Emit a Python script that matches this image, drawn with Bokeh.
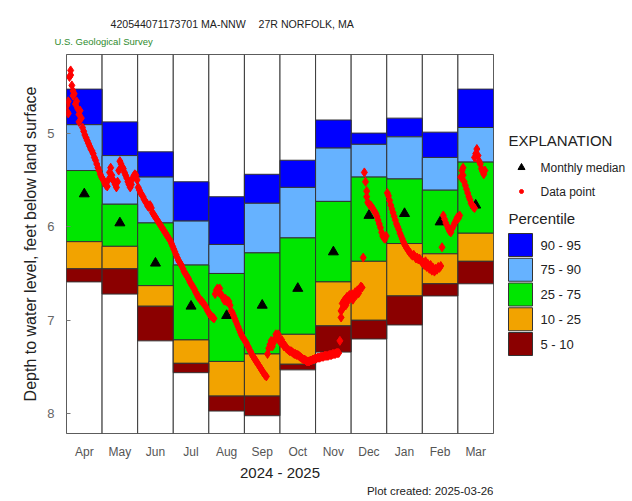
import calendar
from bokeh.plotting import figure
from bokeh.models import Range1d, FixedTicker
from bokeh.layouts import row, column
from bokeh.core.properties import value
from bokeh.embed import file_html
from bokeh.resources import INLINE

FONT = "Liberation Sans"

# ---------------- data ----------------
months = ["Apr", "May", "Jun", "Jul", "Aug", "Sep", "Oct", "Nov", "Dec", "Jan", "Feb", "Mar"]
month_year = [(2024, 4), (2024, 5), (2024, 6), (2024, 7), (2024, 8), (2024, 9),
              (2024, 10), (2024, 11), (2024, 12), (2025, 1), (2025, 2), (2025, 3)]

# percentile boundaries (depth, ft below land surface)
p95 = [4.53, 4.88, 5.20, 5.52, 5.68, 5.44, 5.29, 4.86, 5.00, 4.84, 4.99, 4.53]
p90 = [4.91, 5.24, 5.47, 5.94, 6.19, 5.75, 5.58, 5.16, 5.12, 5.04, 5.26, 4.94]
p75 = [5.40, 5.76, 5.96, 6.41, 6.50, 6.28, 6.12, 5.73, 5.47, 5.49, 5.61, 5.31]
p25 = [6.16, 6.21, 6.63, 7.21, 7.44, 7.36, 7.15, 6.59, 6.37, 6.18, 6.29, 6.07]
p10 = [6.45, 6.45, 6.85, 7.46, 7.81, 7.81, 7.47, 7.06, 7.00, 6.74, 6.61, 6.37]
p05 = [6.59, 6.72, 7.22, 7.56, 7.97, 8.02, 7.53, 7.34, 7.20, 7.05, 6.74, 6.61]
median = [5.65, 5.96, 6.39, 6.85, 6.95, 6.84, 6.66, 6.27, 5.88, 5.86, 5.95, 5.77]

band_labels = ["90 - 95", "75 - 90", "25 - 75", "10 - 25", "5 - 10"]
band_colors = ["#0000FF", "#66B2FF", "#00E600", "#F2A300", "#8B0000"]

# daily data points (day of month, depth)
wl_apr = [(1, 4.70), (1, 4.77), (2, 4.66), (2, 4.79), (3, 4.40), (4, 4.33), (4, 4.38), (5, 4.49),
          (6, 4.55), (6, 4.60), (7, 4.58), (8, 4.69), (9, 4.66), (10, 4.74), (11, 4.88), (11, 4.80),
          (12, 4.76), (13, 4.84), (14, 4.94), (15, 4.98), (16, 5.02), (17, 5.05), (18, 5.08),
          (19, 5.11), (20, 5.14), (21, 5.17), (22, 5.19), (23, 5.22), (24, 5.26), (25, 5.29),
          (26, 5.33), (27, 5.37), (28, 5.40), (29, 5.44), (30, 5.47)]
wl_may = [(1, 5.49), (2, 5.51), (3, 5.54), (4, 5.56), (5, 5.57), (6, 5.50), (7, 5.42), (8, 5.37),
          (9, 5.45), (10, 5.50), (11, 5.52), (12, 5.55), (13, 5.58), (14, 5.52), (15, 5.40),
          (16, 5.30), (17, 5.33), (18, 5.36), (19, 5.38), (20, 5.42), (21, 5.45), (22, 5.48),
          (23, 5.52), (24, 5.55), (25, 5.58), (26, 5.55), (27, 5.49), (28, 5.46), (29, 5.44),
          (30, 5.45), (31, 5.50)]
wl_jun = [(1, 5.58), (2, 5.61), (3, 5.64), (4, 5.66), (5, 5.68), (6, 5.71), (7, 5.73), (8, 5.75),
          (9, 5.78), (10, 5.79), (11, 5.77), (12, 5.80), (13, 5.85), (14, 5.87), (15, 5.89),
          (16, 5.91), (17, 5.93), (18, 5.95), (19, 5.97), (20, 5.99), (21, 6.01), (22, 6.03),
          (23, 6.05), (24, 6.07), (25, 6.09), (26, 6.11), (27, 6.13), (28, 6.15), (29, 6.18),
          (30, 6.21)]
wl_jul = [(1, 6.24), (2, 6.27), (3, 6.30), (4, 6.33), (5, 6.36), (6, 6.38), (7, 6.40), (8, 6.42),
          (9, 6.45), (10, 6.48), (11, 6.50), (12, 6.52), (13, 6.54), (14, 6.56), (15, 6.59),
          (16, 6.61), (17, 6.63), (18, 6.65), (19, 6.67), (20, 6.70), (21, 6.72), (22, 6.75),
          (23, 6.76), (24, 6.78), (25, 6.79), (26, 6.81), (27, 6.82), (28, 6.84), (29, 6.86),
          (30, 6.89), (31, 6.91)]
wl_aug = [(1, 6.93), (2, 6.95), (3, 6.96), (4, 6.97), (5, 6.98), (6, 6.72), (7, 6.68), (8, 6.66),
          (9, 6.70), (10, 6.66), (11, 6.72), (12, 6.74), (13, 6.76), (14, 6.79), (15, 6.77),
          (16, 6.80), (17, 6.79), (18, 6.80), (19, 6.84), (20, 6.90), (21, 6.92), (22, 6.95),
          (23, 6.98), (24, 7.01), (25, 7.04), (26, 7.07), (27, 7.10), (28, 7.13), (29, 7.16),
          (30, 7.18), (31, 7.20)]
wl_sep = [(1, 7.22), (2, 7.24), (3, 7.27), (4, 7.29), (5, 7.32), (6, 7.34), (7, 7.37), (8, 7.39),
          (9, 7.41), (10, 7.43), (11, 7.45), (12, 7.47), (13, 7.49), (14, 7.51), (15, 7.53),
          (16, 7.55), (17, 7.57), (18, 7.59), (19, 7.60), (20, 7.36), (21, 7.30), (22, 7.26),
          (23, 7.22), (24, 7.28), (25, 7.24), (26, 7.20), (27, 7.15), (28, 7.18), (29, 7.15),
          (30, 7.22)]
wl_oct = [(1, 7.24), (2, 7.21), (3, 7.25), (4, 7.28), (5, 7.27), (6, 7.30), (7, 7.31), (8, 7.32),
          (9, 7.33), (10, 7.33), (11, 7.34), (12, 7.35), (13, 7.36), (14, 7.36), (15, 7.37),
          (16, 7.37), (17, 7.38), (18, 7.39), (19, 7.40), (20, 7.41), (21, 7.42), (22, 7.42),
          (23, 7.43), (24, 7.44), (25, 7.44), (26, 7.44), (27, 7.43), (28, 7.43), (29, 7.42),
          (30, 7.42), (31, 7.41)]
wl_nov = [(1, 7.41), (2, 7.40), (3, 7.40), (4, 7.40), (5, 7.39), (6, 7.39), (7, 7.39), (8, 7.38),
          (9, 7.38), (10, 7.38), (11, 7.38), (12, 7.37), (13, 7.37), (14, 7.37), (15, 7.36),
          (16, 7.36), (17, 7.36), (18, 7.35), (19, 7.35), (20, 7.35), (21, 7.22), (22, 6.97),
          (22, 6.90), (23, 6.82), (23, 6.88), (24, 6.86), (24, 6.80), (25, 6.78), (26, 6.84),
          (26, 6.77), (27, 6.75), (28, 6.79), (29, 6.73), (30, 6.76)]
wl_dec = [(1, 6.72), (2, 6.78), (3, 6.74), (4, 6.70), (5, 6.73), (6, 6.68), (7, 6.71), (8, 6.66),
          (9, 6.64), (10, 6.65), (11, 6.33), (12, 5.42), (13, 5.52), (14, 5.62), (14, 5.68),
          (15, 5.74), (16, 5.76), (17, 5.77), (18, 5.78), (19, 5.80), (20, 5.82), (21, 5.84),
          (22, 5.86), (23, 5.89), (24, 5.93), (25, 5.97), (26, 6.01), (27, 6.06), (28, 6.10),
          (29, 6.12), (30, 6.13), (31, 6.10)]
wl_jan = [(1, 5.64), (2, 5.67), (3, 5.72), (4, 5.77), (5, 5.81), (6, 5.85), (7, 5.89), (8, 5.93),
          (9, 5.97), (10, 6.00), (11, 6.03), (12, 6.07), (13, 6.10), (14, 6.13), (15, 6.16),
          (16, 6.19), (17, 6.21), (18, 6.23), (19, 6.25), (20, 6.27), (21, 6.28), (22, 6.30),
          (23, 6.31), (24, 6.30), (25, 6.32), (26, 6.34), (27, 6.33), (28, 6.35), (29, 6.34),
          (30, 6.36), (31, 6.38)]
wl_feb = [(1, 6.38), (2, 6.41), (3, 6.37), (4, 6.43), (5, 6.40), (6, 6.45), (7, 6.41), (8, 6.47),
          (9, 6.44), (10, 6.48), (11, 6.45), (12, 6.46), (13, 6.43), (14, 6.44), (15, 6.42),
          (16, 6.22), (17, 5.88), (18, 5.92), (19, 5.96), (20, 5.99), (21, 6.02), (22, 6.05),
          (23, 6.06), (24, 6.02), (25, 5.99), (26, 5.96), (27, 5.93), (28, 5.90)]
wl_mar = [(1, 5.91), (2, 5.88), (3, 5.47), (4, 5.40), (5, 5.37), (5, 5.45), (6, 5.52), (7, 5.56),
          (8, 5.60), (9, 5.64), (10, 5.68), (11, 5.71), (12, 5.75), (13, 5.77), (14, 5.79),
          (15, 5.80), (15, 5.26), (16, 5.22), (17, 5.17), (18, 5.24), (19, 5.30), (20, 5.33),
          (21, 5.38), (22, 5.41), (23, 5.44), (24, 5.40)]

water_levels = [wl_apr, wl_may, wl_jun, wl_jul, wl_aug, wl_sep,
                wl_oct, wl_nov, wl_dec, wl_jan, wl_feb, wl_mar]

title_site = "420544071173701 MA-NNW"
title_name = "27R NORFOLK, MA"
agency_text = "U.S. Geological Survey"
xlabel_text = "2024 - 2025"
ylabel_text = "Depth to water level, feet below land surface"
created_text = "Plot created: 2025-03-26"

# ---------------- derived positions ----------------
obs_x, obs_y = [], []
for mi, (series, (yr, mo)) in enumerate(zip(water_levels, month_year)):
    nd = calendar.monthrange(yr, mo)[1]
    for day, depth in series:
        obs_x.append(mi + (day - 0.5) / nd)
        obs_y.append(depth)

lefts = list(range(len(months)))
rights = [i + 1 for i in lefts]
centers = [i + 0.5 for i in lefts]

# ---------------- sizes ----------------
WL, WR = 498, 134          # left column width, legend width
W_ALL = WL + WR
H_HEAD, H_MAIN, H_FOOT = 53, 430, 18
BL, BR = 66, 5             # left / right borders of the plotting frame
Y_TOP, Y_BOT = 4.16, 8.21


def blank(width, height, x0=0, x1=None, y0=0):
    f = figure(width=width, height=height,
               x_range=Range1d(x0, width if x1 is None else x1),
               y_range=Range1d(y0 + height, y0),
               output_backend="svg", toolbar_location=None, min_border=0,
               background_fill_color="white", border_fill_color="white")
    f.axis.visible = False
    f.grid.visible = False
    f.outline_line_color = None
    return f


# ---------------- header (full width, page pixels) ----------------
head = blank(W_ALL, H_HEAD)
head.text(x=[110], y=[23], text=[title_site], text_font=value(FONT), text_font_size="10.6px",
          text_color="#222222", text_baseline="middle")
head.text(x=[258], y=[23], text=[title_name], text_font=value(FONT), text_font_size="10.6px",
          text_color="#222222", text_baseline="middle")
head.text(x=[54], y=[41], text=[agency_text], text_font=value(FONT), text_font_size="9.5px",
          text_color="#2E8B2E", text_baseline="middle")

# ---------------- main figure ----------------
p = figure(width=WL, height=H_MAIN, x_range=Range1d(0, 12), y_range=Range1d(Y_BOT, Y_TOP),
           output_backend="svg", toolbar_location=None,
           min_border_left=BL, min_border_right=BR, min_border_top=1, min_border_bottom=50,
           background_fill_color="white", border_fill_color="white")
p.grid.visible = False
p.outline_line_color = "#555555"
p.outline_line_width = 1

# column backgrounds with dividers
p.quad(left=lefts, right=rights, top=[Y_TOP] * 12, bottom=[Y_BOT] * 12,
       fill_color="white", line_color="#3a3a3a", line_width=1)

bounds = [p95, p90, p75, p25, p10, p05]
for k, col in enumerate(band_colors):
    p.quad(left=lefts, right=rights, top=bounds[k], bottom=bounds[k + 1],
           fill_color=col, line_color="#333333", line_width=1)

p.scatter(x=centers, y=median, marker="triangle", size=10, color="black")
p.scatter(x=obs_x, y=obs_y, marker="diamond", size=9, color="#FF0000")

# axes
p.xaxis.ticker = FixedTicker(ticks=centers)
p.xaxis.major_label_overrides = {c: m for c, m in zip(centers, months)}
p.xaxis.major_tick_line_color = None
p.xaxis.minor_tick_line_color = None
p.xaxis.axis_line_color = None
p.xaxis.major_label_standoff = 5
p.xaxis.major_label_text_font = FONT
p.xaxis.major_label_text_font_size = "12px"
p.xaxis.major_label_text_color = "#555555"
p.xaxis.axis_label = xlabel_text
p.xaxis.axis_label_standoff = 2
p.xaxis.axis_label_text_font = FONT
p.xaxis.axis_label_text_font_size = "15px"
p.xaxis.axis_label_text_font_style = "normal"
p.xaxis.axis_label_text_color = "#222222"

p.yaxis.ticker = FixedTicker(ticks=[5, 6, 7, 8])
p.yaxis.major_tick_in = 4
p.yaxis.major_tick_out = 0
p.yaxis.major_tick_line_color = "#777777"
p.yaxis.minor_tick_line_color = None
p.yaxis.axis_line_color = None
p.yaxis.major_label_standoff = 12
p.yaxis.major_label_text_font = FONT
p.yaxis.major_label_text_font_size = "13px"
p.yaxis.major_label_text_color = "#666666"
p.yaxis.axis_label = ylabel_text
p.yaxis.axis_label_standoff = 5
p.yaxis.axis_label_text_font = FONT
p.yaxis.axis_label_text_font_size = "16px"
p.yaxis.axis_label_text_font_style = "normal"
p.yaxis.axis_label_text_color = "#222222"

# ---------------- footer (frame aligned with the main plot, x in page pixels) ----------------
foot = blank(WL, H_FOOT, BL, WL - BR)
foot.text(x=[493], y=[7], text=[created_text], text_font=value(FONT), text_font_size="11.5px",
          text_color="#222222", text_align="right", text_baseline="middle")

# ---------------- legend figure (page coordinates) ----------------
lg = blank(WR, H_MAIN + H_FOOT, 0, None, H_HEAD)
lg.text(x=[10], y=[140], text=["EXPLANATION"], text_font=value(FONT), text_font_size="15px",
        text_color="#222222", text_baseline="middle")
lg.scatter(x=[23], y=[167], marker="triangle", size=7, color="black")
lg.text(x=[42], y=[167], text=["Monthly median"], text_font=value(FONT), text_font_size="12px",
        text_color="#222222", text_baseline="middle")
lg.scatter(x=[23], y=[191], marker="circle", size=4, color="#FF0000")
lg.text(x=[42], y=[191.5], text=["Data point"], text_font=value(FONT), text_font_size="12px",
        text_color="#222222", text_baseline="middle")
lg.text(x=[10], y=[218], text=["Percentile"], text_font=value(FONT), text_font_size="15px",
        text_color="#222222", text_baseline="middle")

sq_top = [233 + 24.75 * i for i in range(len(band_labels))]
lg.quad(left=[10] * 5, right=[34] * 5, top=sq_top, bottom=[t + 23 for t in sq_top],
        fill_color=band_colors, line_color="#333333", line_width=1)
lg.text(x=[42] * 5, y=[t + 11.5 for t in sq_top], text=band_labels, text_font=value(FONT),
        text_font_size="13px", text_color="#222222", text_baseline="middle")

layout = column(head, row(column(p, foot), lg))
open("out.html", "w").write(file_html(layout, INLINE))
